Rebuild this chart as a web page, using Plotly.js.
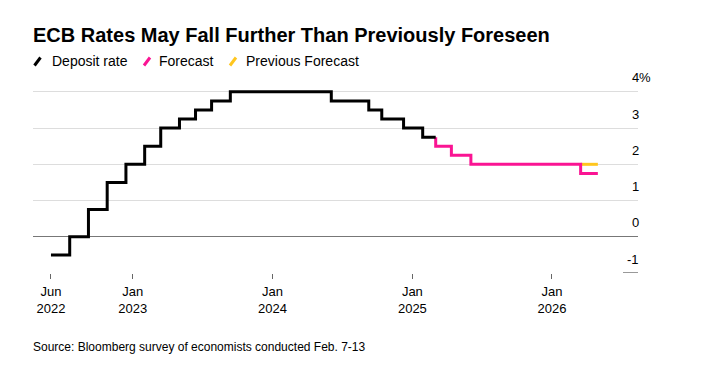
<!DOCTYPE html>
<html>
<head>
<meta charset="utf-8">
<script src="https://cdn.plot.ly/plotly-3.0.1.min.js"></script>
<style>html,body{margin:0;padding:0;background:#fff;}#chart{width:716px;height:373px;}</style>
</head>
<body>
<div id="chart"></div>
<script>
// Deposit rate (actual)
var depositDates = ['2022-06-01','2022-07-20','2022-09-07','2022-10-26','2022-12-14','2023-02-01','2023-03-15','2023-05-03','2023-06-14','2023-07-26','2023-09-13','2024-06-03','2024-09-09','2024-10-13','2024-12-09','2025-01-28','2025-03-03'];
var depositValues = [-0.5, 0, 0.75, 1.5, 2.0, 2.5, 3.0, 3.25, 3.5, 3.75, 4.0, 3.75, 3.5, 3.25, 3.0, 2.75, 2.75];
// Forecast
var forecastDates = ['2025-03-03','2025-03-03','2025-04-13','2025-06-03','2026-03-17','2026-05-01'];
var forecastValues = [2.75, 2.5, 2.25, 2.0, 1.75, 1.75];
// Previous forecast (visible part)
var prevDates = ['2026-03-17','2026-05-01'];
var prevValues = [2.0, 2.0];
// Axis ticks
var xTickVals = ['2022-06-01','2023-01-01','2024-01-01','2025-01-01','2026-01-01'];
var xTickText = ['Jun<br>2022','Jan<br>2023','Jan<br>2024','Jan<br>2025','Jan<br>2026'];
var yGridVals = [0, 1, 2, 3, 4];
var yLabelVals = [-1, 0, 1, 2, 3, 4];
var yLabelText = ['-1','0','1','2','3','4'];

var W = 716, H = 373, L = 33, R = 78, T = 81, B = 100;
var PW = W - L - R, PH = H - T - B;
function px(x){ return (x - L) / PW; }
function py(y){ return (H - B - y) / PH; }

var FONT = '"Liberation Sans", Arial, Helvetica, sans-serif';
var PINK = '#fa1493';
var YELLOW = '#ffc61e';

var traces = [
  {x: prevDates, y: prevValues, type: 'scatter', mode: 'lines', line: {color: YELLOW, width: 3, shape: 'hv'}, hoverinfo: 'skip'},
  {x: forecastDates, y: forecastValues, type: 'scatter', mode: 'lines', line: {color: PINK, width: 3, shape: 'hv'}, hoverinfo: 'skip'},
  {x: depositDates, y: depositValues, type: 'scatter', mode: 'lines', line: {color: '#000', width: 3, shape: 'hv'}, hoverinfo: 'skip'}
];

var annotations = [];
yLabelVals.forEach(function(v, i){
  annotations.push({xref: 'paper', yref: 'y', x: 1, y: v, xanchor: 'right', yanchor: 'middle', yshift: 14, xshift: 1,
    text: yLabelText[i], showarrow: false, borderpad: 0, borderwidth: 0, font: {family: FONT, size: 13, color: '#000'}});
});
annotations.push({xref: 'paper', yref: 'y', x: 1, y: 4, xanchor: 'left', yanchor: 'middle', yshift: 14, xshift: 1,
  text: '%', showarrow: false, borderpad: 0, borderwidth: 0, font: {family: FONT, size: 13, color: '#000'}});

var legendItems = [
  {text: 'Deposit rate', color: '#000', icon: 34.5, tx: 52},
  {text: 'Forecast', color: PINK, icon: 144, tx: 159},
  {text: 'Previous Forecast', color: YELLOW, icon: 230, tx: 245.5}
];
var shapes = [];
legendItems.forEach(function(it){
  annotations.push({xref: 'paper', yref: 'paper', x: px(it.tx), y: py(61), xanchor: 'left', yanchor: 'middle',
    text: it.text, showarrow: false, borderpad: 0, borderwidth: 0, font: {family: FONT, size: 14, color: '#000'}});
  shapes.push({type: 'line', xref: 'paper', yref: 'paper', x0: px(it.icon), y0: py(65.5), x1: px(it.icon + 6), y1: py(57.5),
    line: {color: it.color, width: 3}});
});
shapes.push({type: 'line', xref: 'paper', yref: 'y', x0: px(623), x1: 1, y0: -1, y1: -1, line: {color: '#333', width: 1}});

annotations.push({xref: 'paper', yref: 'paper', x: px(33), y: py(347), xanchor: 'left', yanchor: 'middle',
  text: 'Source: Bloomberg survey of economists conducted Feb. 7-13', showarrow: false, borderpad: 0, borderwidth: 0,
  font: {family: FONT, size: 12, color: '#000'}});

var layout = {
  width: W, height: H,
  margin: {l: L, r: R, t: T, b: B, pad: 0},
  paper_bgcolor: '#fff', plot_bgcolor: '#fff',
  showlegend: false,
  title: {text: '<b>ECB Rates May Fall Further Than Previously Foreseen</b>', xref: 'container', yref: 'container',
    x: 33 / W, y: 1 - 35 / H, xanchor: 'left', yanchor: 'middle', font: {family: FONT, size: 20, color: '#000'}},
  xaxis: {type: 'date', range: ['2022-04-15', '2026-08-14'], tickvals: xTickVals, ticktext: xTickText,
    ticks: 'outside', ticklen: 5, tickwidth: 1, tickcolor: '#666', showgrid: false, zeroline: false, showline: false,
    ticklabelstandoff: 1,
    tickfont: {family: FONT, size: 13, color: '#000'}, fixedrange: true},
  yaxis: {range: [-1, 4.3], tickvals: yGridVals, showticklabels: false, ticks: '', showgrid: true, gridcolor: '#dddddd', gridwidth: 1,
    zeroline: true, zerolinecolor: '#777', zerolinewidth: 1, showline: false, fixedrange: true},
  annotations: annotations,
  shapes: shapes
};

Plotly.newPlot('chart', traces, layout, {displayModeBar: false, staticPlot: true});
</script>
</body>
</html>
